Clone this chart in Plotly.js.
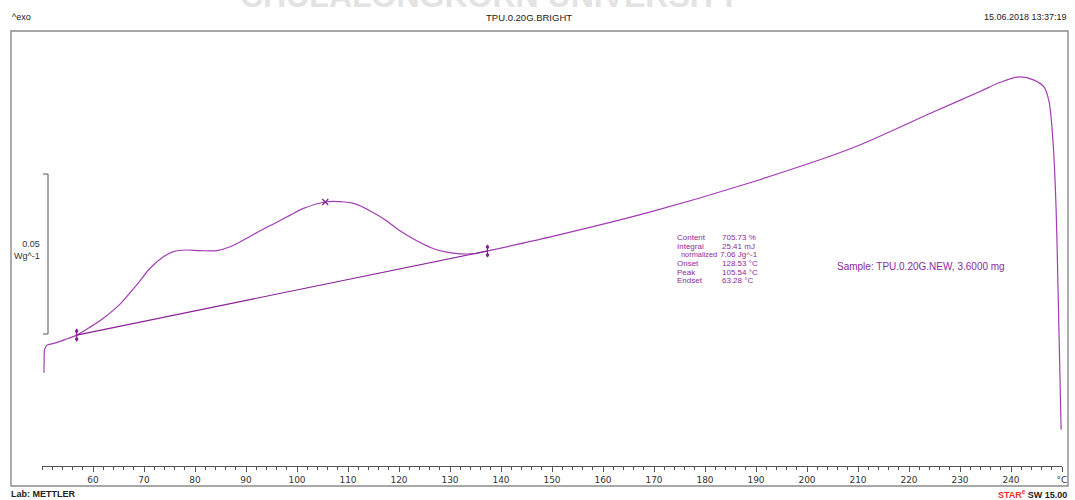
<!DOCTYPE html>
<html>
<head>
<meta charset="utf-8">
<script src="https://cdn.plot.ly/plotly-3.0.1.min.js"></script>
<style>html,body{margin:0;padding:0;background:#fff}</style>
</head>
<body>
<div id="chart" style="width:1075px;height:500px"></div>
<script>
// DSC heating run: temperature (°C) and heat flow (W/g, exo up)
const temperature = [50.38, 50.42, 50.50, 50.91, 52.54, 54.50, 56.80, 59.41, 62.02, 65.30,
  68.58, 71.19, 73.80, 75.76, 78.39, 81.01, 84.28, 86.89, 89.51, 92.78,
  96.06, 98.67, 101.28, 105.54, 108.49, 111.43, 114.38, 117.32, 120.27, 123.21,
  126.16, 129.10, 132.05, 134.99, 137.35, 149.71, 169.34, 188.97, 208.61, 224.31,
  234.13, 238.05, 241.59, 244.53, 246.49, 247.47, 248.26, 248.85, 249.24, 249.53, 249.83];
const heatFlow = [0.0291, 0.0331, 0.0363, 0.0377, 0.0384, 0.0395, 0.0409, 0.0434, 0.0462, 0.0506,
  0.0566, 0.0618, 0.0654, 0.0670, 0.0675, 0.0673, 0.0673, 0.0685, 0.0706, 0.0735,
  0.0762, 0.0784, 0.0805, 0.0825, 0.0826, 0.0819, 0.0797, 0.0769, 0.0734, 0.0706,
  0.0683, 0.0669, 0.0663, 0.0664, 0.0672, 0.0716, 0.0794, 0.0886, 0.0992, 0.1103,
  0.1172, 0.1200, 0.1216, 0.1206, 0.1184, 0.1138, 0.1009, 0.0800, 0.0541, 0.0331, 0.0113];

// Integration limits (baseline end points) and the peak
const limitTemps = [56.80, 137.35];
const limitFlows = [0.0409, 0.0672];
const peakTemps = [105.54];
const peakFlows = [0.0825];

// Temperature axis ticks; the last position carries the unit
const tickValues = [60, 70, 80, 90, 100, 110, 120, 130, 140, 150, 160, 170, 180, 190, 200, 210, 220, 230, 240, 250];
const tickLabels = ['60', '70', '80', '90', '100', '110', '120', '130', '140', '150', '160', '170', '180', '190', '200', '210', '220', '230', '240', '°C'];

// Evaluation results
const resultNames = ['Content', 'Integral', 'normalized', 'Onset', 'Peak', 'Endset'];
const resultValues = ['705.73 %', '25.41 mJ', '7.06 Jg^-1', '128.53 °C', '105.54 °C', '63.28 °C'];

// Scale bar size in W/g
const scaleBar = 0.05;

// ---- layout geometry (pixels) ----
const W = 1075, H = 500;
const L = 42, R = 1062, T = 31, B = 466;
const plotW = R - L, plotH = B - T;
const yMax = plotH / 3200;           // 3200 px per W/g
const pxY = yMax / plotH;            // W/g per pixel
const px = x => (x - L) / plotW;     // pixel -> paper x
const py = y => (B - y) / plotH;     // pixel -> paper y

const curveColor = '#a23db3';
const markColor = '#8a1f98';
const textColor = '#8e2a9e';
const sans = 'Liberation Sans, Arial, sans-serif';

const traces = [
  {
    x: temperature, y: heatFlow, mode: 'lines', type: 'scatter',
    line: {color: curveColor, width: 1.2, shape: 'spline', smoothing: 0.8},
    hoverinfo: 'skip'
  },
  {
    x: limitTemps, y: limitFlows, mode: 'lines', type: 'scatter',
    line: {color: markColor, width: 1.1}, hoverinfo: 'skip'
  },
  // limit marks: short vertical bar with a dot at each end
  {
    x: limitTemps, y: limitFlows, mode: 'markers', type: 'scatter',
    marker: {symbol: 'line-ns', size: 9, line: {color: markColor, width: 1.2}},
    hoverinfo: 'skip'
  },
  {
    x: limitTemps.concat(limitTemps),
    y: limitFlows.map(v => v + 4 * pxY).concat(limitFlows.map(v => v - 4 * pxY)),
    mode: 'markers', type: 'scatter',
    marker: {symbol: 'circle', size: 3.5, color: markColor},
    hoverinfo: 'skip'
  },
  {
    x: peakTemps, y: peakFlows, mode: 'markers', type: 'scatter',
    marker: {symbol: 'x-thin', size: 6, line: {color: markColor, width: 1.2}},
    hoverinfo: 'skip'
  }
];

const baseFont = {family: sans, size: 9, color: '#222'};

const annotations = [
  // watermark across the very top
  {text: '<b>CHULALONGKORN UNIVERSITY</b>', xref: 'paper', yref: 'paper',
   x: px(490), y: py(16), xanchor: 'center', yanchor: 'bottom', showarrow: false,
   font: {family: sans, size: 32, color: '#e3e3e3'}},
  {text: '^exo', xref: 'paper', yref: 'paper', x: px(10), y: py(17), xanchor: 'left', yanchor: 'middle',
   showarrow: false, font: baseFont},
  {text: 'TPU.0.20G.BRIGHT', xref: 'paper', yref: 'paper', x: px(529), y: py(17.5), xanchor: 'center', yanchor: 'middle',
   showarrow: false, font: {family: sans, size: 9.5, color: '#222'}},
  {text: '15.06.2018 13:37:19', xref: 'paper', yref: 'paper', x: px(1069), y: py(17), xanchor: 'right', yanchor: 'middle',
   showarrow: false, font: baseFont},
  {text: '<b>Lab: METTLER</b>', xref: 'paper', yref: 'paper', x: px(9), y: py(494), xanchor: 'left', yanchor: 'middle',
   showarrow: false, font: baseFont},
  {text: '<b><span style="color:#e8312a">STAR<sup>e</sup></span> SW 15.00</b>', xref: 'paper', yref: 'paper',
   x: px(1069), y: py(494), xanchor: 'right', yanchor: 'middle', showarrow: false, font: baseFont},
  {text: scaleBar.toFixed(2) + '<br>Wg^-1', xref: 'paper', yref: 'paper', x: px(42), y: py(250),
   xanchor: 'right', yanchor: 'middle', align: 'right', showarrow: false,
   font: {family: sans, size: 9, color: '#333'}},
  {text: 'Sample: TPU.0.20G.NEW, 3.6000 mg', xref: 'paper', yref: 'paper', x: px(835), y: py(266),
   xanchor: 'left', yanchor: 'middle', showarrow: false,
   font: {family: sans, size: 10, color: textColor}}
];

resultNames.forEach((name, i) => {
  const yy = 237.7 + i * 8.6;
  const indented = name === 'normalized';
  annotations.push({text: name, xref: 'paper', yref: 'paper', x: px(indented ? 679 : 675), y: py(yy),
    xanchor: 'left', yanchor: 'middle', showarrow: false,
    font: {family: sans, size: indented ? 7.4 : 8, color: textColor}});
  annotations.push({text: resultValues[i], xref: 'paper', yref: 'paper', x: px(indented ? 718 : 720), y: py(yy),
    xanchor: 'left', yanchor: 'middle', showarrow: false,
    font: {family: sans, size: 8, color: textColor}});
});

// scale bar bottom placed at a fixed heat-flow level
const barLow = (B - 334) * pxY;
const shapes = [
  // outer frame
  {type: 'rect', xref: 'paper', yref: 'paper', x0: px(11), x1: px(1068), y0: py(486), y1: py(31),
   line: {color: '#8a8a8a', width: 1.4}, layer: 'below'},
  // scale bar bracket
  {type: 'line', xref: 'paper', yref: 'y', x0: px(48), x1: px(48), y0: barLow, y1: barLow + scaleBar,
   line: {color: '#555', width: 1}},
  {type: 'line', xref: 'paper', yref: 'y', x0: px(43), x1: px(48), y0: barLow, y1: barLow,
   line: {color: '#555', width: 1}},
  {type: 'line', xref: 'paper', yref: 'y', x0: px(43), x1: px(48), y0: barLow + scaleBar, y1: barLow + scaleBar,
   line: {color: '#555', width: 1}}
];

const layout = {
  width: W, height: H,
  margin: {l: L, r: W - R, t: T, b: H - B, pad: 0},
  paper_bgcolor: '#fff', plot_bgcolor: 'rgba(0,0,0,0)',
  showlegend: false,
  xaxis: {
    range: [50, 250], showgrid: false, zeroline: false,
    showline: true, linecolor: '#555', linewidth: 1,
    tickmode: 'array', tickvals: tickValues, ticktext: tickLabels,
    ticks: 'outside', ticklen: 5, tickwidth: 1, tickcolor: '#555',
    minor: {ticks: 'outside', dtick: 2, tick0: 50, ticklen: 3, tickcolor: '#555', showgrid: false},
    tickfont: {family: 'DejaVu Sans, Verdana, sans-serif', size: 9, color: '#333'},
    fixedrange: true
  },
  yaxis: {range: [0, yMax], visible: false, fixedrange: true},
  annotations: annotations,
  shapes: shapes
};

Plotly.newPlot('chart', traces, layout, {staticPlot: true, displayModeBar: false});
</script>
</body>
</html>
